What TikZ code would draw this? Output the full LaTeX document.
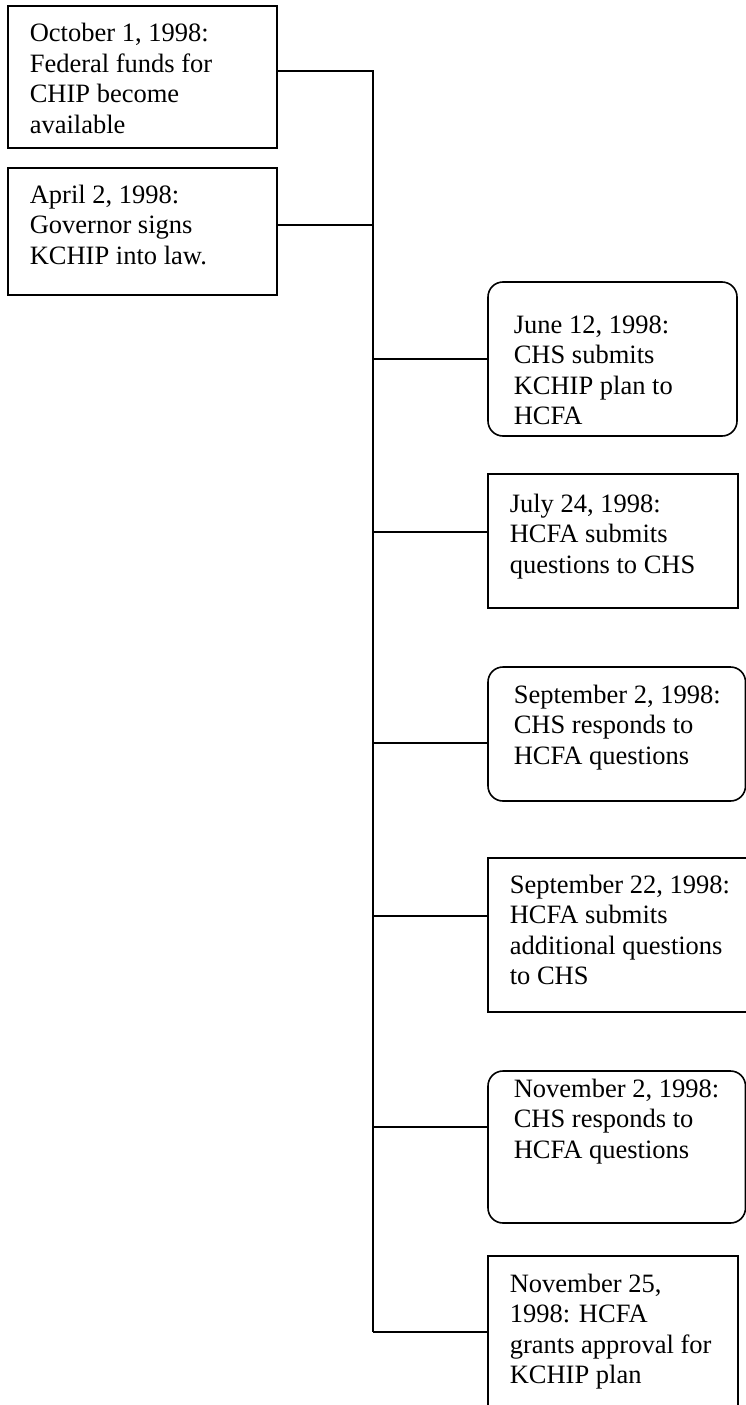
\documentclass[tikz,border=0pt]{standalone}
\usepackage{fontspec}
\setmainfont{Liberation Serif}
\newcommand\mylines[1]{\begin{tabular}[t]{@{}l@{}}#1\end{tabular}}
\begin{document}
\begin{tikzpicture}[x=1pt,y=-1pt,
  line width=1.6pt,
  sqbox/.style={draw, rectangle},
  rdbox/.style={draw, rounded corners=15pt},
  txt/.style={anchor=base west, inner sep=0pt, font=\fontsize{26.5}{30.5}\selectfont}]
\useasboundingbox (0,0) rectangle (746,1405);
% left boxes
\draw (8,6) rectangle (277,148) coordinate (b1se);
\coordinate (b1e) at (277,71);
\node[txt] (t1) at (29,42) {\mylines{October 1, 1998:\\Federal funds for\\CHIP become\\available}};
\draw (8,168) rectangle (277,295);
\coordinate (b2e) at (277,225);
\node[txt] (t2) at (29,203) {\mylines{April 2, 1998:\\Governor signs\\KCHIP into law.}};
% spine
\coordinate (j1) at (373,71);
\coordinate (j2) at (373,225);
\coordinate (j3) at (373,359);
\coordinate (j4) at (373,532);
\coordinate (j5) at (373,743);
\coordinate (j6) at (373,916);
\coordinate (j7) at (373,1127);
\coordinate (j8) at (373,1332);
\draw (b1e) -- (j1) -- (j8);
\draw (b2e) -- (j2);
% right boxes
\clip (0,0) rectangle (746,1405);
\draw[rounded corners=15pt] (488,282) rectangle (737,436);
\coordinate (r1w) at (488,359);
\node[txt] (t3) at (513,333) {\mylines{June 12, 1998:\\CHS submits\\KCHIP plan to\\HCFA}};
\draw (488,474) rectangle (738,608);
\coordinate (r2w) at (488,532);
\node[txt] (t4) at (509,512) {\mylines{July 24, 1998:\\HCFA submits\\questions to CHS}};
\draw[rounded corners=15pt] (488,667) rectangle (745.5,801);
\coordinate (r3w) at (488,743);
\node[txt] (t5) at (513,703) {\mylines{September 2, 1998:\\CHS responds to\\HCFA questions}};
\draw (488,858) rectangle (748,1012);
\coordinate (r4w) at (488,916);
\node[txt] (t6) at (509,893) {\mylines{September 22, 1998:\\HCFA submits\\additional questions\\to CHS}};
\draw[rounded corners=15pt] (488,1071) rectangle (745.5,1223);
\coordinate (r5w) at (488,1127);
\node[txt] (t7) at (513,1097) {\mylines{November 2, 1998:\\CHS responds to\\HCFA questions}};
\draw (488,1256) rectangle (738,1430);
\coordinate (r6w) at (488,1332);
\node[txt] (t8) at (509,1292) {\mylines{November 25,\\1998: HCFA\\grants approval for\\KCHIP plan}};
\foreach \a/\b in {j3/r1w,j4/r2w,j5/r3w,j6/r4w,j7/r5w,j8/r6w} \draw (\a) -- (\b);
\end{tikzpicture}
\end{document}
